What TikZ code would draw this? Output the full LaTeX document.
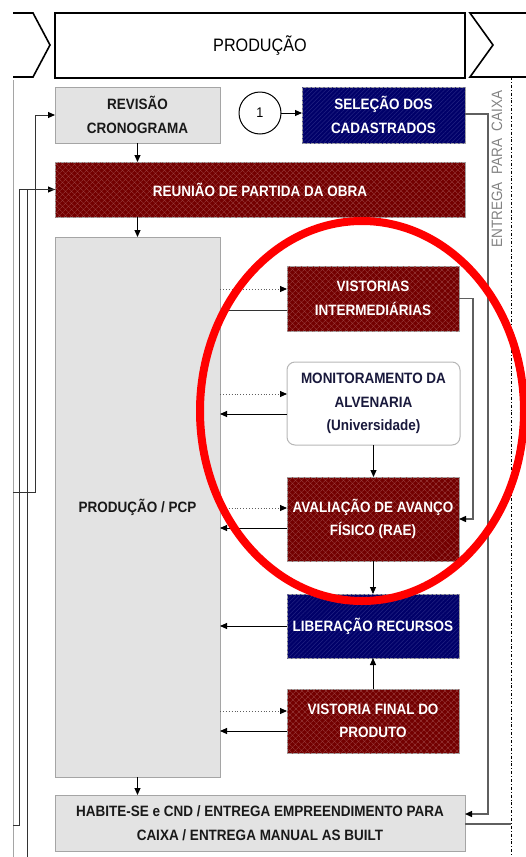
\documentclass[tikz,border=0pt]{standalone}
\usepackage{fontspec}
\setmainfont{Liberation Sans}[FakeStretch=0.9]
\usetikzlibrary{arrows.meta,patterns.meta}
\definecolor{dred}{RGB}{115,0,0}
\definecolor{dredh}{RGB}{155,65,65}
\definecolor{navy}{RGB}{0,0,105}
\definecolor{navyh}{RGB}{35,35,130}
\definecolor{lgray}{RGB}{227,227,227}
\definecolor{bgray}{RGB}{165,165,165}
\definecolor{lnk}{RGB}{95,95,95}
\definecolor{txt}{RGB}{25,25,25}
\definecolor{montxt}{RGB}{25,25,60}
\definecolor{entgray}{RGB}{130,130,130}
\begin{document}
\begin{tikzpicture}[x=1pt,y=-1pt,
  every node/.style={inner sep=0pt,outer sep=0pt,align=center,
    font=\fontsize{15}{23.5}\selectfont\bfseries},
  graybox/.style={draw=bgray,fill=lgray,line width=1pt,text=txt},
  redbox/.style={draw=bgray,fill=dred,line width=1pt,text=white,
    postaction={pattern={Lines[angle=45,distance=4pt,line width=0.5pt]},pattern color=dredh},
    postaction={pattern={Lines[angle=-45,distance=4pt,line width=0.5pt]},pattern color=dredh}},
  bluebox/.style={draw=bgray,fill=navy,line width=1pt,text=white,
    postaction={pattern={Lines[angle=45,distance=3pt,line width=0.5pt]},pattern color=navyh}},
  monbox/.style={draw=bgray!80,fill=white,line width=1pt,rounded corners=8pt,text=montxt},
  tip/.style={-{Triangle[length=7pt,width=6pt,color=black]}},
  arr/.style={draw=black,line width=0.9pt,tip},
  dotarr/.style={draw=lnk,dotted,line width=0.9pt,tip},
  gline/.style={draw=lnk,line width=1.3pt},
  lline/.style={draw=black!80,line width=1pt},
  hdr/.style={draw=black,line width=1.6pt}
]
\useasboundingbox (0,0) rectangle (526,857);

% left border and header
\draw[bgray,line width=0.8pt] (13,80) -- (13,857);
\draw[hdr] (13,13) -- (33,13) -- (50,45) -- (33,77) -- (13,77);
\node[hdr,minimum width=410pt,minimum height=65pt,font=\fontsize{18}{22}\selectfont] (title) at (260,45.5) {PRODUÇÃO};
\draw[hdr] (526,13) -- (470,13) -- (493,45) -- (470,77) -- (526,77);

% right dash-dot border
\coordinate (dtop) at (511,77);
\coordinate (dbot) at (511,857);
\draw[black,line width=0.8pt,dash dot] (dtop) -- (dbot);
\node[rotate=90,text=entgray,font=\fontsize{15}{17}\selectfont] (ent) at (497,169) {ENTREGA\ \ PARA\ \ CAIXA};

% nodes
\node[graybox,minimum width=165pt,minimum height=56pt] (rev) at (137.5,115) {REVISÃO\\CRONOGRAMA};
\node[draw=black,line width=1pt,circle,minimum size=42pt,fill=white,font=\fontsize{14}{16}\selectfont] (one) at (260,113) {1};
\node[bluebox,minimum width=163pt,minimum height=56pt] (sel) at (383.5,115) {SELEÇÃO DOS\\CADASTRADOS};
\node[redbox,minimum width=410pt,minimum height=55pt] (reu) at (260,189.5) {REUNIÃO DE PARTIDA DA OBRA};
\node[graybox,minimum width=165pt,minimum height=540pt] (pcp) at (137.5,507) {PRODUÇÃO / PCP};
\node[graybox,minimum width=410pt,minimum height=56pt] (hab) at (260,823) {HABITE-SE e CND / ENTREGA EMPREENDIMENTO PARA\\CAIXA / ENTREGA MANUAL AS BUILT};
\node[redbox,minimum width=172pt,minimum height=65pt] (vis) at (373,298.5) {VISTORIAS\\INTERMEDIÁRIAS};
\node[monbox,minimum width=173pt,minimum height=83pt] (mon) at (373.5,403.5) {MONITORAMENTO DA\\ALVENARIA\\(Universidade)};
\node[redbox,minimum width=172pt,minimum height=84pt] (ava) at (373,519) {AVALIAÇÃO DE AVANÇO\\FÍSICO (RAE)};
\node[bluebox,minimum width=172pt,minimum height=64pt] (lib) at (373,626) {LIBERAÇÃO RECURSOS};
\node[redbox,minimum width=172pt,minimum height=64pt] (vfin) at (373,721) {VISTORIA FINAL DO\\PRODUTO};

% vertical flow
\draw[arr] (rev.south) -- (rev.south |- reu.north);
\draw[arr] (rev.south |- reu.south) -- (rev.south |- pcp.north);
\draw[arr] (pcp.south) -- (pcp.south |- hab.north);
\draw[arr] (one) -- (sel.west |- one);
\draw[arr] (mon.south) -- (mon.south |- ava.north);
\draw[arr] (ava.south) -- (ava.south |- lib.north);
\draw[arr] (vfin.north) -- (vfin.north |- lib.south);

% PCP <-> right column
\coordinate (v1) at ([yshift=9.5pt]vis.west);
\coordinate (v2) at ([yshift=-11.5pt]vis.west);
\draw[dotarr] (pcp.east |- v1) -- (v1);
\draw[lline] (v2) -- (pcp.east |- v2);
\coordinate (m1) at ([yshift=9.5pt]mon.west);
\coordinate (m2) at ([yshift=-10.5pt]mon.west);
\draw[dotarr] (pcp.east |- m1) -- (m1);
\draw[arr] (m2) -- (pcp.east |- m2);
\coordinate (a1) at ([yshift=11pt]ava.west);
\coordinate (a2) at ([yshift=-9pt]ava.west);
\draw[dotarr] (pcp.east |- a1) -- (a1);
\draw[arr] (a2) -- (pcp.east |- a2);
\draw[arr] (lib.west) -- (pcp.east |- lib.west);
\coordinate (f1) at ([yshift=10pt]vfin.west);
\coordinate (f2) at ([yshift=-10pt]vfin.west);
\draw[dotarr] (pcp.east |- f1) -- (f1);
\draw[arr] (f2) -- (pcp.east |- f2);

% right side links
\draw[gline,tip] (vis.east) -- ++(14,0) |- (ava.east);
\coordinate (h1) at ([yshift=9pt]hab.east);
\coordinate (h2) at ([yshift=-1pt]hab.east);
\draw[gline,tip] ([yshift=1pt]sel.east) -- ++(23,0) |- (h1);
\draw[gline] (h2) -- (dbot |- h2);

% left side links
\coordinate (l1) at (13,492);
\coordinate (l2) at (13,825);
\coordinate (l3) at (27,857);
\draw[lline,tip] (l1) -- ++(22,0) |- (rev.west);
\draw[lline,tip] (l2) -- ++(6,0) |- (reu.west);
\draw[lline] (l3) |- (reu.west);

% red highlight ellipse
\draw[red,line width=8pt] (362,411) ellipse [x radius=162pt,y radius=190pt];
\end{tikzpicture}
\end{document}
